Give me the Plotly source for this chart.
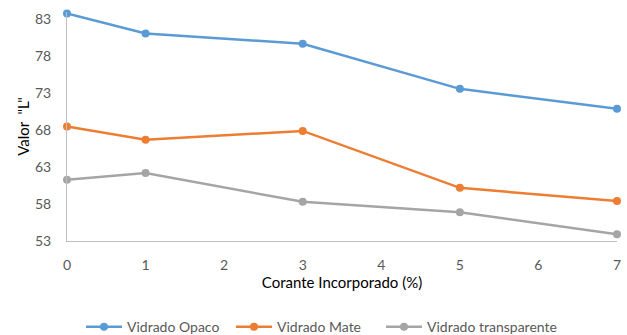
import plotly.graph_objects as go

# Dye content (%) and L values for each glaze
corante = [0, 1, 3, 5, 7]
opaco = [83.8, 81.1, 79.7, 73.6, 70.9]
mate = [68.5, 66.7, 67.9, 60.2, 58.4]
transparente = [61.3, 62.2, 58.3, 56.9, 53.9]

y_ticks = [53, 58, 63, 68, 73, 78, 83]
x_ticks = [0, 1, 2, 3, 4, 5, 6, 7]

series = [
    ("Vidrado Opaco", opaco, "#5B9BD5", "legend"),
    ("Vidrado Mate", mate, "#ED7D31", "legend2"),
    ("Vidrado transparente", transparente, "#A5A5A5", "legend3"),
]

fig = go.Figure()
for name, vals, color, leg in series:
    fig.add_trace(go.Scatter(
        x=corante, y=vals, name=name, mode="lines+markers",
        line=dict(color=color, width=2.5),
        marker=dict(color=color, size=8),
        cliponaxis=False, legend=leg, showlegend=True,
    ))

# plot area spans 67..617 px horizontally; legend entries start every 150 px
plot_left, plot_w = 67, 550
legend_px = [81, 231, 381]
legend_common = dict(
    orientation="h", xanchor="left", y=-0.376, yanchor="middle",
    font=dict(size=14, color="#595959"), itemwidth=36,
    bgcolor="rgba(0,0,0,0)",
)

fig.update_layout(
    width=627, height=335,
    showlegend=True,
    margin=dict(l=67, r=10, t=12, b=94, autoexpand=False),
    paper_bgcolor="white", plot_bgcolor="white",
    font=dict(family="Lato, 'Open Sans', sans-serif", color="#595959", size=14),
    xaxis=dict(
        range=[0, 7], tickvals=x_ticks, showgrid=False, zeroline=False,
        showline=True, linecolor="#BFBFBF", linewidth=1, ticks="",
        ticklabelstandoff=11,
        tickfont=dict(size=14, color="#595959"),
        title=dict(text="Corante Incorporado (%)", standoff=3,
                   font=dict(size=15, color="#000000")),
    ),
    yaxis=dict(
        range=[53, 84], tickvals=y_ticks, showgrid=False, zeroline=False,
        showline=True, linecolor="#BFBFBF", linewidth=1, ticks="",
        ticklabelstandoff=12,
        tickfont=dict(size=14, color="#595959"),
        title=dict(text='Valor  "L"', standoff=1,
                   font=dict(size=15, color="#000000")),
    ),
    legend=dict(x=(legend_px[0] - plot_left) / plot_w, **legend_common),
    legend2=dict(x=(legend_px[1] - plot_left) / plot_w, **legend_common),
    legend3=dict(x=(legend_px[2] - plot_left) / plot_w, **legend_common),
)

fig.write_html("out.html")
